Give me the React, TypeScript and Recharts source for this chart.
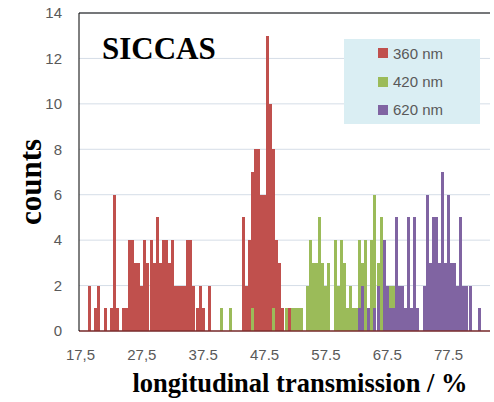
import React from 'react';
import { BarChart, Bar, XAxis, YAxis, CartesianGrid, Legend, ReferenceLine } from 'recharts';

// bin centres, 0.5 % wide
const BINS = [
  17.5, 18, 18.5, 19, 19.5, 20, 20.5, 21, 21.5, 22,
  22.5, 23, 23.5, 24, 24.5, 25, 25.5, 26, 26.5, 27,
  27.5, 28, 28.5, 29, 29.5, 30, 30.5, 31, 31.5, 32,
  32.5, 33, 33.5, 34, 34.5, 35, 35.5, 36, 36.5, 37,
  37.5, 38, 38.5, 39, 39.5, 40, 40.5, 41, 41.5, 42,
  42.5, 43, 43.5, 44, 44.5, 45, 45.5, 46, 46.5, 47,
  47.5, 48, 48.5, 49, 49.5, 50, 50.5, 51, 51.5, 52,
  52.5, 53, 53.5, 54, 54.5, 55, 55.5, 56, 56.5, 57,
  57.5, 58, 58.5, 59, 59.5, 60, 60.5, 61, 61.5, 62,
  62.5, 63, 63.5, 64, 64.5, 65, 65.5, 66, 66.5, 67,
  67.5, 68, 68.5, 69, 69.5, 70, 70.5, 71, 71.5, 72,
  72.5, 73, 73.5, 74, 74.5, 75, 75.5, 76, 76.5, 77,
  77.5, 78, 78.5, 79, 79.5, 80, 80.5, 81, 81.5, 82,
  82.5, 83, 83.5, 84,
];

const NM360 = [
  0, 0, 0, 2, 0, 1, 2, 0, 1, 0,
  1, 6, 1, 0, 1, 1, 4, 4, 3, 3,
  2, 4, 3, 4, 3, 5, 3, 4, 4, 3,
  4, 2, 2, 2, 2, 4, 4, 2, 1, 2,
  1, 0, 2, 0, 0, 0, 0, 0, 0, 0,
  0, 0, 0, 5, 2, 4, 7, 8, 8, 6,
  6, 13, 10, 8, 4, 3, 1, 1, 1, 0,
  0, 0, 0, 0, 0, 0, 0, 0, 0, 0,
  0, 0, 0, 0, 0, 0, 0, 0, 0, 0,
  0, 0, 0, 0, 0, 0, 0, 0, 0, 0,
  0, 0, 0, 0, 0, 0, 0, 0, 0, 0,
  0, 0, 0, 0, 0, 0, 0, 0, 0, 0,
  0, 0, 0, 0, 0, 0, 0, 0, 0, 0,
  0, 0, 0, 0,
];

const NM420 = [
  0, 0, 0, 0, 0, 0, 0, 0, 0, 0,
  0, 0, 0, 0, 0, 0, 0, 0, 0, 0,
  0, 0, 0, 0, 0, 0, 0, 0, 0, 0,
  0, 0, 0, 0, 0, 0, 0, 0, 0, 0,
  0, 0, 0, 0, 0, 0, 1, 0, 0, 1,
  0, 0, 0, 0, 0, 0, 1, 0, 0, 0,
  0, 0, 0, 1, 0, 0, 0, 1, 0, 1,
  1, 1, 1, 0, 2, 4, 3, 3, 5, 3,
  2, 3, 0, 4, 2, 4, 3, 1, 2, 1,
  1, 4, 3, 4, 1, 4, 6, 3, 5, 3,
  0, 2, 2, 0, 0, 0, 0, 0, 0, 0,
  0, 0, 0, 0, 0, 0, 0, 0, 0, 0,
  0, 0, 0, 0, 0, 0, 0, 0, 0, 0,
  0, 0, 0, 0,
];

const NM620 = [
  0, 0, 0, 0, 0, 0, 0, 0, 0, 0,
  0, 0, 0, 0, 0, 0, 0, 0, 0, 0,
  0, 0, 0, 0, 0, 0, 0, 0, 0, 0,
  0, 0, 0, 0, 0, 0, 0, 0, 0, 0,
  0, 0, 0, 0, 0, 0, 0, 0, 0, 0,
  0, 0, 0, 0, 0, 0, 0, 0, 0, 0,
  0, 0, 0, 0, 0, 0, 0, 0, 0, 0,
  0, 0, 0, 0, 0, 0, 0, 0, 0, 0,
  0, 0, 0, 0, 0, 0, 0, 0, 0, 0,
  0, 1, 2, 0, 1, 0, 1, 2, 0, 4,
  2, 1, 1, 5, 2, 2, 1, 5, 1, 5,
  1, 0, 2, 6, 3, 5, 5, 3, 7, 3,
  6, 3, 3, 2, 5, 2, 2, 2, 0, 0,
  1, 0, 0, 0,
];

const X_TICK_VALUES = [17.5, 27.5, 37.5, 47.5, 57.5, 67.5, 77.5];
const X_TICK_LABELS = ['17,5', '27,5', '37.5', '47.5', '57.5', '67.5', '77.5'];
const Y_TICKS = [0, 2, 4, 6, 8, 10, 12, 14];

const SERIES = [
  { key: 'r', name: '360 nm', color: '#C0504D' },
  { key: 'g', name: '420 nm', color: '#9BBB59' },
  { key: 'p', name: '620 nm', color: '#8064A2' },
];

const data = BINS.map((bin, i) => ({ bin, r: NM360[i], g: NM420[i], p: NM620[i] }));

const tickStyle = { fill: '#595959', fontSize: 15, fontFamily: 'Liberation Sans, Arial, sans-serif' };
const serif = 'Liberation Serif, Times New Roman, serif';

const renderLegend = ({ payload }: any) => (
  <div style={{ background: '#DAEEF3', width: 136, height: 85 }}>
    {(payload || []).map((item: any) => (
      <div
        key={item.value}
        style={{ height: 28.4, display: 'flex', alignItems: 'center', paddingLeft: 34 }}
      >
        <span style={{ width: 10, height: 10, background: item.color, display: 'inline-block', marginRight: 5 }} />
        <span style={{ ...tickStyle, color: '#595959' }}>{item.value}</span>
      </div>
    ))}
  </div>
);

export default function App() {
  return (
    <div style={{ position: 'absolute', left: 0, top: 0, width: 494, height: 402, background: '#fff' }}>
      <style>{'.recharts-bar-rectangle path { shape-rendering: crispEdges; }'}</style>
      <BarChart
        width={494}
        height={402}
        data={data}
        margin={{ top: 13, right: 4, left: 0, bottom: 0 }}
        barCategoryGap={0}
      >
        <CartesianGrid vertical={false} stroke="#D5DDE7" />
        <XAxis
          dataKey="bin"
          interval={19}
          height={71}
          tickLine={false}
          tickMargin={12}
          axisLine={{ stroke: '#7B2C2C', strokeWidth: 1.5 }}
          tick={tickStyle}
          tickFormatter={(v: number) => X_TICK_LABELS[X_TICK_VALUES.indexOf(v)] ?? ''}
        />
        <XAxis xAxisId="g" dataKey="bin" hide />
        <XAxis xAxisId="p" dataKey="bin" hide />
        <YAxis
          domain={[0, 14]}
          ticks={Y_TICKS}
          interval={0}
          width={79}
          tickLine={false}
          tickMargin={11}
          axisLine={{ stroke: '#000' }}
          tick={tickStyle}
        />
        <YAxis yAxisId="frame" orientation="right" width={0} tick={false} axisLine={{ stroke: '#000' }} />
        <ReferenceLine y={14} stroke="#000" />
        <Bar dataKey="r" name={SERIES[0].name} fill={SERIES[0].color} isAnimationActive={false} />
        <Bar xAxisId="g" dataKey="g" name={SERIES[1].name} fill={SERIES[1].color} isAnimationActive={false} />
        <Bar xAxisId="p" dataKey="p" name={SERIES[2].name} fill={SERIES[2].color} isAnimationActive={false} />
        <Legend
          layout="vertical"
          align="center"
          verticalAlign="middle"
          wrapperStyle={{ left: 344, top: 39, width: 136, height: 85 }}
          content={renderLegend}
        />
      </BarChart>
      <svg
        width={494}
        height={402}
        style={{ position: 'absolute', left: 0, top: 0, pointerEvents: 'none' }}
      >
        <text x={102} y={59} fontFamily={serif} fontWeight="bold" fontSize={31} fill="#000">
          SICCAS
        </text>
        <text
          x={41}
          y={182}
          transform="rotate(-90, 41, 182)"
          textAnchor="middle"
          fontFamily={serif}
          fontWeight="bold"
          fontSize={31}
          fill="#000"
        >
          counts
        </text>
        <text x={300} y={392} textAnchor="middle" fontFamily={serif} fontWeight="bold" fontSize={26.5} fill="#000">
          longitudinal transmission / %
        </text>
      </svg>
    </div>
  );
}
